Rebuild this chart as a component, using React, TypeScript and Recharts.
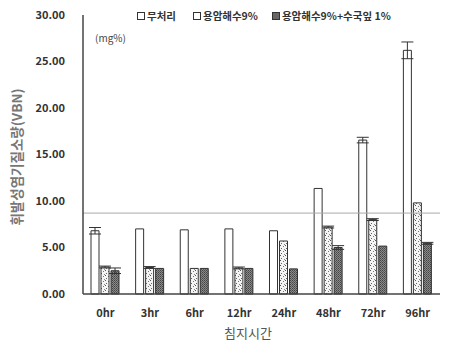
import React from 'react';
import { BarChart, Bar, XAxis, YAxis, ErrorBar, ReferenceLine } from 'recharts';

const categories = ['0hr', '3hr', '6hr', '12hr', '24hr', '48hr', '72hr', '96hr'];
const control = [6.8, 7.0, 6.9, 7.0, 6.8, 11.35, 16.55, 26.2];
const controlErr = [0.35, 0, 0, 0, 0, 0, 0.3, 0.9];
const lava = [2.9, 2.85, 2.75, 2.8, 5.7, 7.2, 8.0, 9.8];
const lavaErr = [0.1, 0.1, 0, 0.1, 0, 0.1, 0.1, 0];
const lavaHyd = [2.5, 2.75, 2.75, 2.75, 2.7, 5.0, 5.15, 5.45];
const lavaHydErr = [0.3, 0, 0, 0, 0, 0.2, 0, 0.1];
const yTicks = [0, 5, 10, 15, 20, 25, 30];
const refValue = 8.7;
const seriesNames = ['무처리', '용암해수9%', '용암해수9%+수국잎 1%'];

const data = categories.map((c, i) => ({
  name: c,
  a: control[i], aErr: controlErr[i],
  b: lava[i], bErr: lavaErr[i],
  c: lavaHyd[i], cErr: lavaHydErr[i],
}));

const FONT = '"Noto Sans CJK KR", "Noto Sans", sans-serif';

const LegendContent = () => (
  <div style={{ position: 'absolute', left: 137, top: 9, display: 'flex', fontFamily: FONT, fontWeight: 700, fontSize: 10.5, color: '#333', lineHeight: '14px', whiteSpace: 'nowrap', zIndex: 2 }}>
    {seriesNames.map((n, i) => (
      <div key={n} style={{ display: 'flex', alignItems: 'center', marginRight: i === 0 ? 17 : 14 }}>
        <span style={{ display: 'inline-block', width: 6, height: 6, border: '1px solid #333', background: i === 2 ? '#666' : '#fff', marginRight: 2 }} />
        <span>{n}</span>
      </div>
    ))}
  </div>
);

export default function App() {
  return (
    <div style={{ position: 'absolute', left: 0, top: 0, width: 450, height: 351, background: '#fff' }}>
      <LegendContent />
      <BarChart width={450} height={351} data={data} margin={{ top: 15, right: 10, bottom: 27, left: 0 }} barGap={2} barSize={8}>
        <defs>
          <pattern id="dots" width="5" height="5" patternUnits="userSpaceOnUse">
            <rect width="5" height="5" fill="#f4f4f4" />
            <rect x="0" y="0" width="1" height="1" fill="#555" />
            <rect x="3" y="1" width="1" height="1" fill="#777" />
            <rect x="1" y="3" width="1" height="1" fill="#666" />
            <rect x="4" y="4" width="1" height="1" fill="#888" />
          </pattern>
          <pattern id="dark" width="2" height="2" patternUnits="userSpaceOnUse">
            <rect width="2" height="2" fill="#8a8a8a" />
            <rect x="0" y="0" width="1" height="1" fill="#444" />
            <rect x="1" y="1" width="1" height="1" fill="#5a5a5a" />
          </pattern>
        </defs>
        <XAxis dataKey="name" height={30} tickLine={false} axisLine={{ stroke: '#444', strokeWidth: 1.5 }} tick={{ fill: '#333', fontSize: 11, fontWeight: 700, fontFamily: FONT }} tickMargin={9}
          label={{ content: () => <text x={248} y={338} textAnchor="middle" fontFamily={FONT} fontSize={13} fill="#555">침지시간</text> }} />
        <YAxis width={83} domain={[0, 30]} ticks={yTicks} interval={0} tickLine={false} axisLine={{ stroke: '#444', strokeWidth: 1.5 }}
          tickFormatter={(v: number) => v.toFixed(2)} tickMargin={12}
          tick={{ fill: '#333', fontSize: 11, fontWeight: 700, fontFamily: FONT }}
          label={{ content: () => (
            <g>
              <text x={22} y={157} transform="rotate(-90 22 157)" textAnchor="middle" fontFamily={FONT} fontSize={13.5} fontWeight={700} fill="#777">휘발성염기질소량(VBN)</text>
              <text x={95} y={42} fontFamily={FONT} fontSize={10} fill="#444">(mg%)</text>
            </g>
          ) }} />
        <ReferenceLine y={refValue} stroke="#aaa" strokeWidth={1} ifOverflow="extendDomain" />
        <Bar dataKey="a" fill="#fff" stroke="#333" strokeWidth={1} isAnimationActive={false}>
          <ErrorBar dataKey="aErr" width={6} stroke="#333" strokeWidth={1} direction="y" />
        </Bar>
        <Bar dataKey="b" fill="url(#dots)" stroke="#333" strokeWidth={1} isAnimationActive={false}>
          <ErrorBar dataKey="bErr" width={6} stroke="#333" strokeWidth={1} direction="y" />
        </Bar>
        <Bar dataKey="c" fill="url(#dark)" stroke="#333" strokeWidth={1} isAnimationActive={false}>
          <ErrorBar dataKey="cErr" width={6} stroke="#333" strokeWidth={1} direction="y" />
        </Bar>
      </BarChart>
    </div>
  );
}
